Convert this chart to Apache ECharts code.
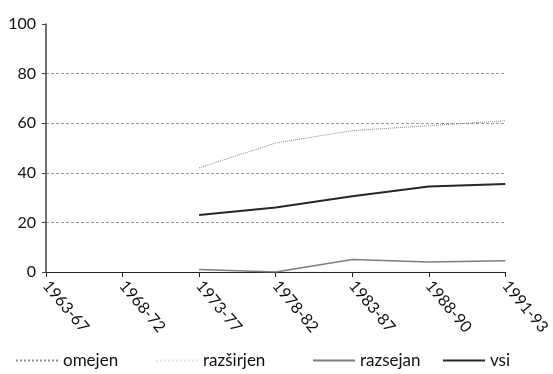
<!DOCTYPE html>
<html>
<head>
<meta charset="utf-8">
<script src="https://cdn.jsdelivr.net/npm/echarts@6/dist/echarts.min.js"></script>
<style>
  html, body { margin: 0; padding: 0; background: #fff; }
  #chart { width: 553px; height: 374px; }
</style>
</head>
<body>
<div id="chart"></div>
<script>
// Periods on the category axis
const periods = ['1963-67', '1968-72', '1973-77', '1978-82', '1983-87', '1988-90', '1991-93'];

// Shares (%) per group; first two periods have no data
const omejen    = [null, null, 42, 52, 57, 59, 61];
const razsirjen = [null, null, 0.5, 0.2, 0.4, 0.5, 0.5];
const razsejan  = [null, null, 1, 0, 5, 4, 4.5];
const vsi       = [null, null, 23, 26, 30.5, 34.5, 35.5];

const yTicks = [0, 20, 40, 60, 80, 100];

const FONT = 'Lato';

const seriesDefs = [
  { name: 'omejen',    data: omejen,    color: '#8c8c8c', width: 1,   type: 'dotted' },
  { name: 'razširjen', data: razsirjen, color: '#e4e4e4', width: 1,   type: 'dotted' },
  { name: 'razsejan',  data: razsejan,  color: '#7d7d7d', width: 1.5, type: 'solid' },
  { name: 'vsi',       data: vsi,       color: '#262626', width: 2,   type: 'solid' }
];

// One legend block per series, laid out in fixed columns; only the line sample is shown
const legendLeft = [10, 150, 307, 437];
const legends = seriesDefs.map((s, i) => ({
  data: [s.name],
  left: legendLeft[i],
  top: 347,
  itemWidth: 42,
  itemHeight: 12,
  itemGap: 10,
  itemStyle: { opacity: 0 },
  textStyle: { fontFamily: FONT, fontSize: 17, color: '#111' }
}));

// Grid lines at the inner ticks only (none along the top edge)
const gridColors = yTicks.map((v, i) => (i === yTicks.length - 1 ? 'rgba(0,0,0,0)' : '#9a9a9a'));

const chart = echarts.init(document.getElementById('chart'));
chart.setOption({
  animation: false,
  backgroundColor: '#fff',
  legend: legends,
  grid: { left: 46, right: 44, top: 24, bottom: 102, containLabel: false },
  xAxis: {
    type: 'category',
    data: periods,
    boundaryGap: false,
    axisLine: { lineStyle: { color: '#222', width: 1 } },
    axisTick: { show: true, alignWithLabel: true, length: 5, lineStyle: { color: '#222' } },
    axisLabel: {
      rotate: -50,
      margin: 11,
      fontFamily: FONT,
      fontSize: 16,
      color: '#111'
    },
    splitLine: { show: false }
  },
  yAxis: {
    type: 'value',
    min: yTicks[0],
    max: yTicks[yTicks.length - 1],
    interval: 20,
    axisLine: { show: true, lineStyle: { color: '#444', width: 1.5 } },
    axisTick: { show: true, length: 4, lineStyle: { color: '#444' } },
    axisLabel: { fontFamily: FONT, fontSize: 16, color: '#111', margin: 10 },
    splitLine: {
      show: true,
      lineStyle: { color: gridColors, type: [3, 2], width: 1 }
    }
  },
  series: seriesDefs.map(s => ({
    name: s.name,
    type: 'line',
    data: s.data,
    symbol: 'none',
    connectNulls: false,
    itemStyle: { color: s.color },
    lineStyle: { color: s.color, width: s.width, type: s.type }
  }))
});
</script>
</body>
</html>
